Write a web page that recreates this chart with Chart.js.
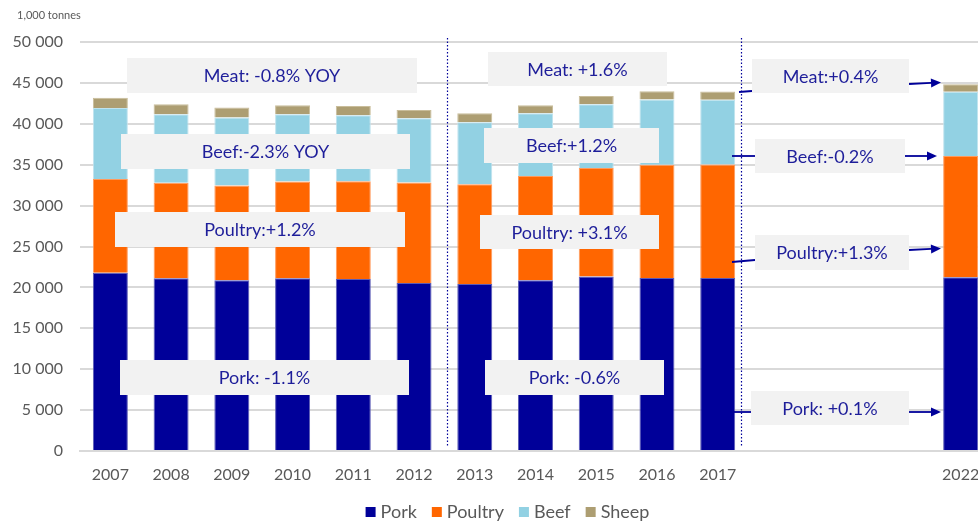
<!DOCTYPE html>
<html>
<head>
<meta charset="utf-8">
<script src="https://cdn.jsdelivr.net/npm/chart.js@4"></script>
<style>
  html, body { margin: 0; padding: 0; overflow: hidden; background: #ffffff; }
  #wrap { width: 1015px; height: 522px; position: relative; }
</style>
</head>
<body>
<div id="wrap"><canvas id="c"></canvas></div>
<script>
// ---- data ----
const categories = ['2007','2008','2009','2010','2011','2012','2013','2014','2015','2016','2017','','','','2022'];
const pork    = [21800, 21120, 20880, 21120, 21040, 20550, 20430, 20880, 21320, 21160, 21160, null, null, null, 21240];
const poultry = [11460, 11660, 11590, 11830, 11950, 12280, 12190, 12750, 13290, 13820, 13860, null, null, null, 14830];
const beef    = [ 8660,  8380,  8290,  8210,  8050,  7840,  7560,  7650,  7770,  7980,  7930, null, null, null,  7850];
const sheep   = [ 1270,  1220,  1220,  1100,  1130,  1010,  1100,   980,  1010,  1010,  1010, null, null, null,   930];
const seriesNames = ['Pork', 'Poultry', 'Beef', 'Sheep'];
const yTickValues = [0, 5000, 10000, 15000, 20000, 25000, 30000, 35000, 40000, 45000, 50000];
const unitLabel = '1,000 tonnes';

// annotation texts
const noteTexts = [
  'Meat: -0.8% YOY', 'Beef:-2.3% YOY', 'Poultry:+1.2%', 'Pork: -1.1%',
  'Meat: +1.6%', 'Beef:+1.2%', 'Poultry: +3.1%', 'Pork: -0.6%',
  'Meat:+0.4%', 'Beef:-0.2%', 'Poultry:+1.3%', 'Pork: +0.1%'
];

// ---- layout of the annotation boxes (pixels) ----
const noteBoxes = [
  [127, 58, 417, 93], [121, 134, 410, 169], [115, 212, 405, 247], [120, 360, 409, 395],
  [488, 52, 667, 86], [484, 128, 659, 163], [480, 215, 659, 249], [485, 360, 664, 395],
  [752, 59, 909, 93], [755, 139, 905, 173], [755, 235, 909, 270], [751, 391, 909, 425]
];
const leadLines = [ // [x1,y1,x2,y2]
  [739, 92, 752, 91], [732, 156, 755, 156], [732, 262, 755, 260], [733, 412, 751, 412]
];
const arrows = [
  [909, 84, 941, 82.5], [905, 156, 937, 156], [909, 250, 941, 248.5], [909, 412, 941, 412]
];
const dividers = [5.55, 10.38]; // category positions of the dotted separators
const legendCenter = { x: 507.5, y: 512 };

const FONT = 'Lato, "Open Sans", sans-serif';
const GREY = '#595959';
const NAVY = '#000099';
const NOTE_TEXT = '#1e1e9a';
const colors = ['#000099', '#ff6600', '#92d1e3', '#ad9e72'];
const borders = ['#5b5bb5', '#ff9a5c', '#bfe3ee', '#c9bd9a'];

const fmt = v => String(v).replace(/\B(?=(\d{3})+(?!\d))/g, ' ');

const overlay = {
  id: 'overlay',
  afterDatasetsDraw(chart) {
    const ctx = chart.ctx;
    const xs = chart.scales.x;
    const ys = chart.scales.y;
    ctx.save();
    // dotted dividers
    const step = xs.getPixelForValue(1) - xs.getPixelForValue(0);
    ctx.strokeStyle = NAVY;
    ctx.lineWidth = 1.2;
    ctx.setLineDash([1.5, 2]);
    dividers.forEach(d => {
      const x = Math.round(xs.getPixelForValue(0) + d * step) + 0.5;
      ctx.beginPath();
      ctx.moveTo(x, ys.top - 4);
      ctx.lineTo(x, ys.bottom - 4);
      ctx.stroke();
    });
    ctx.setLineDash([]);
    // lead lines
    ctx.lineWidth = 1.8;
    leadLines.forEach(l => {
      ctx.beginPath(); ctx.moveTo(l[0], l[1]); ctx.lineTo(l[2], l[3]); ctx.stroke();
    });
    // arrows
    arrows.forEach(a => {
      const ang = Math.atan2(a[3] - a[1], a[2] - a[0]);
      const len = 10, hw = 4.5;
      const bx = a[2] - len * Math.cos(ang), by = a[3] - len * Math.sin(ang);
      ctx.beginPath(); ctx.moveTo(a[0], a[1]); ctx.lineTo(bx, by); ctx.stroke();
      ctx.fillStyle = NAVY;
      ctx.beginPath();
      ctx.moveTo(a[2], a[3]);
      ctx.lineTo(bx - hw * Math.sin(ang), by + hw * Math.cos(ang));
      ctx.lineTo(bx + hw * Math.sin(ang), by - hw * Math.cos(ang));
      ctx.closePath(); ctx.fill();
    });
    // boxes with text
    ctx.font = '18px ' + FONT;
    ctx.textAlign = 'center';
    ctx.textBaseline = 'middle';
    noteBoxes.forEach((b, i) => {
      ctx.fillStyle = '#f2f2f2';
      ctx.fillRect(b[0], b[1], b[2] - b[0], b[3] - b[1]);
      ctx.fillStyle = NOTE_TEXT;
      ctx.fillText(noteTexts[i], (b[0] + b[2]) / 2, (b[1] + b[3]) / 2 + 1);
    });
    // unit label
    ctx.font = '11px ' + FONT;
    ctx.fillStyle = GREY;
    ctx.textAlign = 'left';
    ctx.fillText(unitLabel, 17, 15);
    // legend (built from the dataset labels and colours)
    ctx.font = '18px ' + FONT;
    const box = 10, gapText = 5, gapItem = 15;
    const items = chart.data.datasets.map(ds => ({ text: ds.label, color: ds.backgroundColor, w: ctx.measureText(ds.label).width }));
    const total = items.reduce((s, it) => s + box + gapText + it.w, 0) + gapItem * (items.length - 1);
    let x = legendCenter.x - total / 2;
    ctx.textBaseline = 'middle';
    items.forEach(it => {
      ctx.fillStyle = it.color;
      ctx.fillRect(x, legendCenter.y - box / 2, box, box);
      ctx.fillStyle = GREY;
      ctx.fillText(it.text, x + box + gapText, legendCenter.y);
      x += box + gapText + it.w + gapItem;
    });
    ctx.restore();
  }
};

const values = [pork, poultry, beef, sheep];

new Chart(document.getElementById('c'), {
  type: 'bar',
  data: {
    labels: categories,
    datasets: seriesNames.map((n, i) => ({
      label: n,
      data: values[i],
      backgroundColor: colors[i],
      borderColor: borders[i],
      borderWidth: 1,
      barPercentage: 0.576,
      categoryPercentage: 1.0
    }))
  },
  options: {
    responsive: true,
    maintainAspectRatio: false,
    animation: false,
    layout: { padding: { top: 42, right: 24, left: 0, bottom: 21 } },
    plugins: {
      legend: { display: false },
      tooltip: { enabled: false }
    },
    scales: {
      x: {
        stacked: true,
        grid: { display: false, drawTicks: false },
        border: { display: true, color: '#d9d9d9', width: 2 },
        afterFit: s => { s.height = 50; },
        ticks: { font: { family: FONT, size: 16 }, color: GREY, padding: 14, maxRotation: 0, autoSkip: false }
      },
      y: {
        stacked: true,
        min: 0, max: 50000,
        afterBuildTicks: s => { s.ticks = yTickValues.map(v => ({ value: v })); },
        afterFit: s => { s.width = 80; },
        grid: { color: '#d9d9d9', lineWidth: 2, drawTicks: false },
        border: { display: false },
        ticks: { font: { family: FONT, size: 16 }, color: GREY, padding: 17, callback: v => fmt(v) }
      }
    }
  },
  plugins: [overlay]
});
</script>
</body>
</html>
